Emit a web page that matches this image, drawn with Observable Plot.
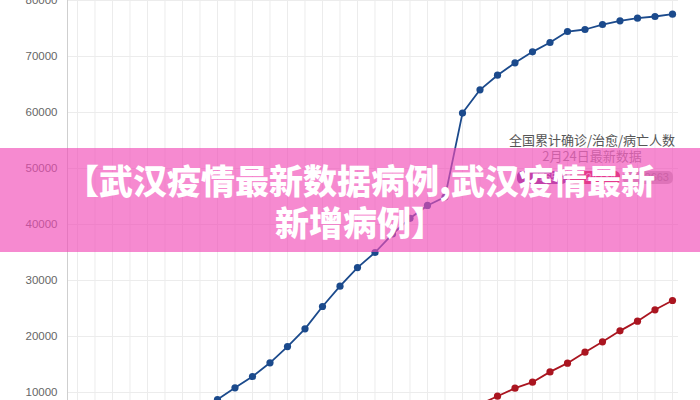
<!DOCTYPE html>
<html>
<head>
<meta charset="utf-8">
<script src="https://cdn.jsdelivr.net/npm/d3@7"></script>
<script src="https://cdn.jsdelivr.net/npm/@observablehq/plot@0.6"></script>
<style>
  html, body { margin: 0; padding: 0; background: #fff; }
  #wrap { position: relative; width: 700px; height: 400px; overflow: hidden; font-family: "Liberation Sans", Arial, sans-serif; }
  #legend { position: absolute; left: 492px; width: 200px; top: 132px; text-align: center; font-family: "Noto Sans CJK SC", sans-serif; font-size: 13px; line-height: 16px; }
  #legend .t1 { color: #555; }
  #legend .t2 { color: #888; }
  #pills { position: absolute; top: 171px; left: 517px; height: 13px; display: flex; gap: 3px; font-size: 11px; }
  #pills span { display: block; height: 13px; line-height: 13px; border-radius: 5px; width: 50px; text-align: right; padding-right: 4px; box-sizing: border-box; font-family: "Liberation Sans", sans-serif; }
  #banner { position: absolute; left: 0; top: 148px; width: 700px; height: 104px; background: rgba(241, 75, 183, 0.65); }
  #btext { position: absolute; left: 40px; width: 640px; top: 159px; text-align: center; color: #fff; font-family: "Noto Sans CJK SC", sans-serif; font-weight: 900; font-size: 34px; line-height: 42px; white-space: nowrap; }
</style>
</head>
<body>
<div id="wrap">
  <div id="chart"></div>
  <div id="legend"><div class="t1"></div><div class="t2"></div></div>
  <div id="pills"></div>
  <div id="banner"></div>
  <div id="btext"></div>
</div>
<script>
// Dates (one per day, 2020-01-21 .. 2020-02-24)
const dates = [
  "2020-01-21","2020-01-22","2020-01-23","2020-01-24","2020-01-25","2020-01-26","2020-01-27",
  "2020-01-28","2020-01-29","2020-01-30","2020-01-31","2020-02-01","2020-02-02","2020-02-03",
  "2020-02-04","2020-02-05","2020-02-06","2020-02-07","2020-02-08","2020-02-09","2020-02-10",
  "2020-02-11","2020-02-12","2020-02-13","2020-02-14","2020-02-15","2020-02-16","2020-02-17",
  "2020-02-18","2020-02-19","2020-02-20","2020-02-21","2020-02-22","2020-02-23","2020-02-24"
];
// Cumulative confirmed (blue); earliest days are below the visible range
const confirmed = [
  null, null, null, null, null, null, 5000,
  6900, 8750, 10840, 12860, 15300, 18200, 21370,
  25360, 28980, 32300, 35000, 38300, 41100, 43400,
  44900, 59900, 64050, 66660, 68870, 70830, 72500,
  74460, 74820, 75710, 76370, 76840, 77140, 77550
];
// Cumulative cured (red)
const cured = [
  null, null, null, null, null, null, null,
  null, null, null, null, null, null, null,
  null, null, null, null, null, null, null,
  null, 6700, 7900, 9340, 10770, 11840, 13680,
  15240, 17200, 19050, 21010, 22740, 24770, 26430
];
const yTicks = [10000, 20000, 30000, 40000, 50000, 60000, 70000, 80000];
const legendTitle = "全国累计确诊/治愈/病亡人数";
const legendSub = "2月24日最新数据";
const pillLabels = ["77658", "24734", "2663"];
const pillColors = ["#6a2c91", "#c81a3c", "#bdbdbd"];
const bannerLines = ["【武汉疫情最新数据病例,武汉疫情最新", "新增病例】"];

const parse = d3.utcParse("%Y-%m-%d");
const day = 864e5;
const rows = dates.map((d, i) => ({date: parse(d), confirmed: confirmed[i], cured: cured[i]}));
const conf = rows.filter(r => r.confirmed != null);
const cur = rows.filter(r => r.cured != null);
const t0 = parse(dates[0]).getTime();
const t1 = parse(dates[dates.length - 1]).getTime();

const chart = Plot.plot({
  width: 700,
  height: 400,
  marginLeft: 67,
  marginRight: 22,
  marginTop: 0,
  marginBottom: 0,
  style: {fontFamily: "'Liberation Sans', Arial, sans-serif", background: "transparent"},
  x: {type: "utc", domain: [new Date(t0 - 0.571 * day), new Date(t1 + 0.343 * day)], axis: null},
  y: {domain: [10000 - 8 * 10000 / 56, 80000], axis: null},
  marks: [
    Plot.gridX(rows.map(r => r.date), {stroke: "#ececec", strokeOpacity: 1}),
    Plot.gridY(yTicks, {stroke: "#ececec", strokeOpacity: 1}),
    Plot.axisY(yTicks, {tickSize: 0, tickPadding: 10, fontSize: 11.5, fill: "#666", label: null, tickFormat: d => String(d)}),
    Plot.ruleX([new Date(t0 - 0.571 * day)], {stroke: "#cfcfcf", strokeWidth: 1}),
    Plot.line(conf, {x: "date", y: "confirmed", stroke: "#1b4a8c", strokeWidth: 1.8, clip: true}),
    Plot.dot(conf, {x: "date", y: "confirmed", fill: "#1b4a8c", r: 3.6, clip: true}),
    Plot.line(cur, {x: "date", y: "cured", stroke: "#aa1520", strokeWidth: 1.8, clip: true}),
    Plot.dot(cur, {x: "date", y: "cured", fill: "#aa1520", r: 3.6, clip: true})
  ]
});
document.getElementById("chart").appendChild(chart);

document.querySelector("#legend .t1").textContent = legendTitle;
document.querySelector("#legend .t2").textContent = legendSub;
const pills = document.getElementById("pills");
pillLabels.forEach((l, i) => {
  const s = document.createElement("span");
  s.textContent = l;
  s.style.background = pillColors[i];
  s.style.color = i === 2 ? "#888" : "rgba(255,255,255,0.85)";
  pills.appendChild(s);
});
document.getElementById("btext").innerHTML = bannerLines.join("<br>");
</script>
</body>
</html>
